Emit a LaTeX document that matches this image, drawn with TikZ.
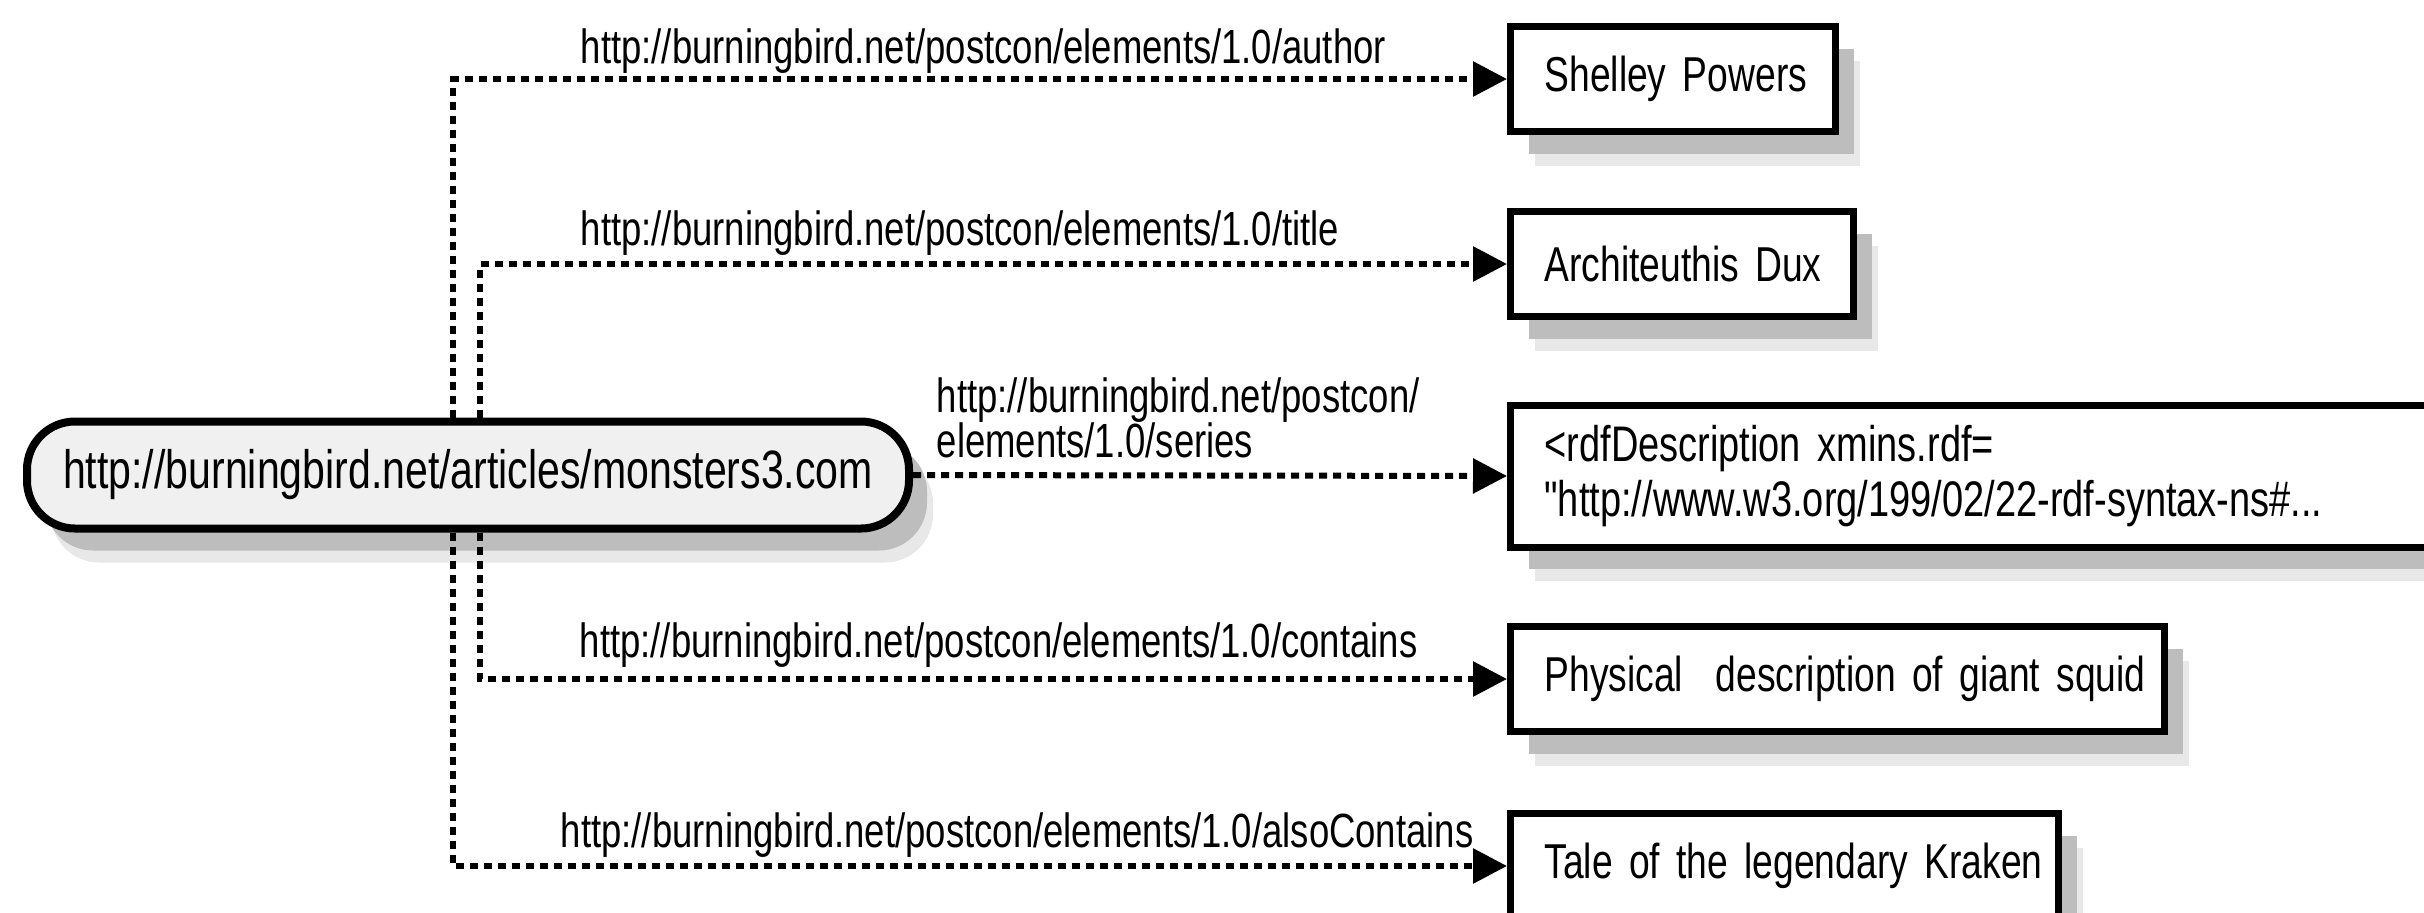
\documentclass[tikz,border=0pt]{standalone}
\usepackage{fontspec}
\setmainfont{Liberation Sans}[FakeStretch=0.76, Ligatures=TeXOff, WordSpace=0.75]
\usetikzlibrary{arrows.meta,shadows}
\begin{document}
\begin{tikzpicture}[x=0.25pt,y=-0.25pt,
  shadowed/.style={general shadow={fill=black!9, shadow xshift=6pt, shadow yshift=-8.5pt},
                   general shadow={fill=black!26, shadow xshift=4.5pt, shadow yshift=-5.5pt}},
  lbl/.style={inner sep=0pt, anchor=base west, font=\fontsize{12}{11.25}\selectfont},
  valbox/.style={draw=black, line width=1.75pt, fill=white, anchor=west,
                 minimum height=26.25pt, inner xsep=8.5pt, inner ysep=0pt, align=left,
                 font=\fontsize{12.25}{13.75}\selectfont, shadowed},
  srcnode/.style={draw=black, line width=2pt, fill=black!6, rounded corners=12pt,
                  minimum width=220.5pt, minimum height=26.75pt, inner sep=0pt,
                  font=\fontsize{13.5}{16}\selectfont, shadowed},
  link/.style={line width=1.5pt, dash pattern=on 2pt off 1.5pt,
               -{Triangle[length=8.5pt,width=8.5pt]}}
]
\useasboundingbox (0,0) rectangle (2424,912);
\clip (0,0) rectangle (2424,912);

% value boxes
\node[valbox, text width=64.25pt] (a1) at (1507,79) {\mbox{Shelley Powers}};
\node[valbox, text width=68.75pt] (a2) at (1507,264) {\mbox{Architeuthis Dux}};
\node[valbox, text width=218.75pt, minimum height=35.5pt, font=\fontsize{12.5}{13.75}\selectfont] (a3) at (1507,476)
  {<rdfDescription xmins.rdf=\\"http://www.w3.org/199/02/22-rdf-syntax-ns\#...};
\node[valbox, text width=146.5pt] (a4) at (1507,679) {\mbox{Physical\ \ description of giant squid}};
\node[valbox, text width=120pt] (a5) at (1507,866) {\mbox{Tale of the legendary Kraken}};

% source
\node[srcnode] (src) at (468,475) {http://burningbird.net/articles/monsters3.com};

% connectors
\coordinate (xo) at (453,0);
\coordinate (xi) at (480,0);
\draw[link] (src.north -| xo) |- (a1.west);
\draw[link] (src.south -| xo) |- (a5.west);
\draw[link] (src.north -| xi) |- (a2.west);
\draw[link] (src.south -| xi) |- (a4.west);
\draw[link] (src.east) -- (a3.west);

% labels
\node[lbl] (l1) at (580,63) {http://burningbird.net/postcon/elements/1.0/author};
\node[lbl] (l2) at (580,245) {http://burningbird.net/postcon/elements/1.0/title};
\node[lbl, anchor=west, align=left] (l3) at (936,418) {http://burningbird.net/postcon/\\elements/1.0/series};
\node[lbl] (l4) at (579,657) {http://burningbird.net/postcon/elements/1.0/contains};
\node[lbl] (l5) at (560,847) {http://burningbird.net/postcon/elements/1.0/alsoContains};
\end{tikzpicture}
\end{document}
